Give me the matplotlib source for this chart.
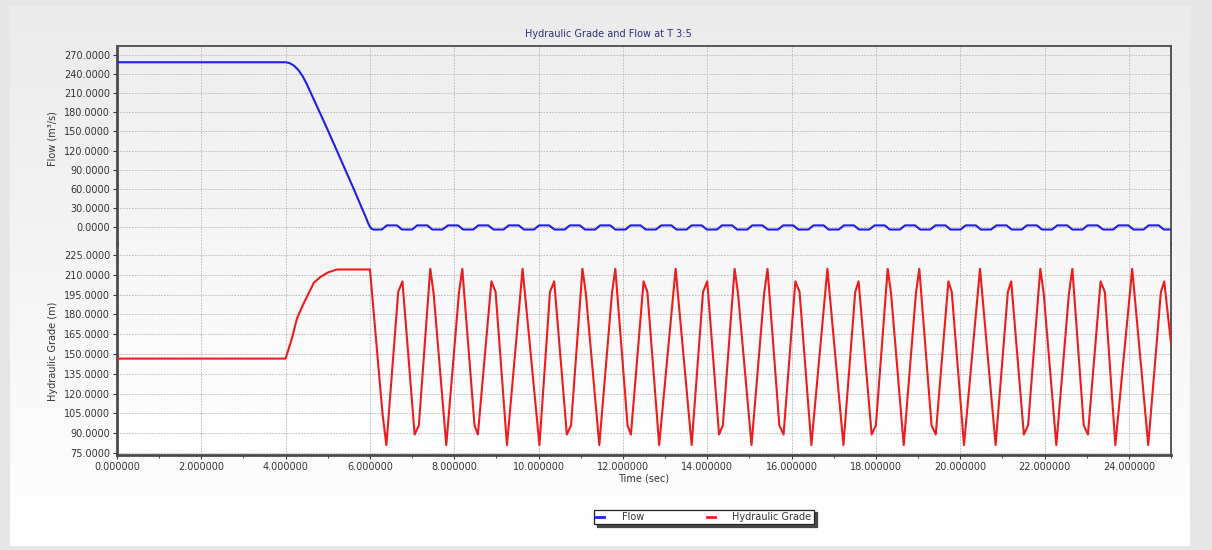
import numpy as np
import matplotlib
matplotlib.use("Agg")
import matplotlib.pyplot as plt
from matplotlib.colors import LinearSegmentedColormap
from matplotlib.ticker import MultipleLocator, FormatStrFormatter
from matplotlib.lines import Line2D

# ---------------------------------------------------------------- data
title = "Hydraulic Grade and Flow at T 3:5"
x_label = "Time (sec)"
flow_label = "Flow (m\u00b3/s)"
hgl_label = "Hydraulic Grade (m)"
series_names = ["Flow", "Hydraulic Grade"]

# Flow through T 3:5 (m3/s): steady, valve closure 4-6 s, then small surges
flow_t = [0.0, 4.0, 4.1, 4.2, 4.3, 4.4, 4.5, 4.6, 4.8, 5.0, 5.2, 5.4, 5.6,
          5.8, 5.9, 5.97, 6.03, 6.08, 6.28,
          6.40, 6.64, 6.76, 7.00, 7.12, 7.36, 7.48, 7.72,
          7.85, 8.09, 8.21, 8.45, 8.57, 8.81, 8.93, 9.17,
          9.29, 9.53, 9.65, 9.89, 10.01, 10.25, 10.38, 10.62,
          10.74, 10.98, 11.10, 11.34, 11.46, 11.70, 11.82, 12.06,
          12.18, 12.42, 12.54, 12.78, 12.91, 13.15, 13.27, 13.51,
          13.63, 13.87, 13.99, 14.23, 14.35, 14.59, 14.71, 14.95,
          15.07, 15.31, 15.44, 15.68, 15.80, 16.04, 16.16, 16.40,
          16.52, 16.76, 16.88, 17.12, 17.24, 17.48, 17.60, 17.84,
          17.97, 18.21, 18.33, 18.57, 18.69, 18.93, 19.05, 19.29,
          19.41, 19.65, 19.77, 20.01, 20.13, 20.37, 20.49, 20.73,
          20.86, 21.10, 21.22, 21.46, 21.58, 21.82, 21.94, 22.18,
          22.30, 22.54, 22.66, 22.90, 23.02, 23.26, 23.39, 23.63,
          23.75, 23.99, 24.11, 24.35, 24.47, 24.71, 24.83, 25.00]
flow_q = [258.5, 258.5, 257.0, 253.0, 246.5, 237.0, 224.5, 210.0, 181.0,
          152.0, 122.0, 92.0, 62.0, 31.0, 15.5, 4.0, -2.5, -4.0, -4.0,
          2.5, 2.5, -4.0, -4.0, 2.5, 2.5, -4.0, -4.0,
          2.5, 2.5, -4.0, -4.0, 2.5, 2.5, -4.0, -4.0,
          2.5, 2.5, -4.0, -4.0, 2.5, 2.5, -4.0, -4.0,
          2.5, 2.5, -4.0, -4.0, 2.5, 2.5, -4.0, -4.0,
          2.5, 2.5, -4.0, -4.0, 2.5, 2.5, -4.0, -4.0,
          2.5, 2.5, -4.0, -4.0, 2.5, 2.5, -4.0, -4.0,
          2.5, 2.5, -4.0, -4.0, 2.5, 2.5, -4.0, -4.0,
          2.5, 2.5, -4.0, -4.0, 2.5, 2.5, -4.0, -4.0,
          2.5, 2.5, -4.0, -4.0, 2.5, 2.5, -4.0, -4.0,
          2.5, 2.5, -4.0, -4.0, 2.5, 2.5, -4.0, -4.0,
          2.5, 2.5, -4.0, -4.0, 2.5, 2.5, -4.0, -4.0,
          2.5, 2.5, -4.0, -4.0, 2.5, 2.5, -4.0, -4.0,
          2.5, 2.5, -4.0, -4.0, 2.5, 2.5, -4.0, -4.0]

# Hydraulic grade at T 3:5 (m)
hgl_t = [0.0, 4.0, 4.15, 4.27, 4.43, 4.67, 4.83, 5.02, 5.22, 6.0,
         6.30, 6.39, 6.67, 6.77, 7.06, 7.16, 7.43, 7.51, 7.81,
         8.11, 8.19, 8.48, 8.56, 8.88, 8.98, 9.25, 9.62, 10.02,
         10.27, 10.37, 10.67, 10.77, 11.04, 11.12, 11.44,
         11.74, 11.82, 12.11, 12.19, 12.49, 12.58, 12.86, 13.25, 13.63,
         13.90, 14.00, 14.28, 14.37, 14.65, 14.73, 15.05,
         15.35, 15.43, 15.71, 15.81, 16.09, 16.19, 16.47, 16.85, 17.23,
         17.51, 17.59, 17.90, 18.00, 18.28, 18.36, 18.66,
         18.95, 19.03, 19.32, 19.42, 19.72, 19.80, 20.09, 20.47, 20.84,
         21.13, 21.21, 21.51, 21.61, 21.90, 21.98, 22.28,
         22.58, 22.66, 22.93, 23.03, 23.33, 23.43, 23.68, 24.08, 24.46,
         24.76, 24.84, 25.00]
hgl_h = [146.5, 146.5, 162.0, 177.0, 188.5, 204.0, 208.5, 212.0, 214.0, 214.0,
         104.0, 81.0, 197.0, 205.0, 89.0, 96.0, 214.5, 196.0, 81.0,
         196.0, 214.5, 96.0, 89.0, 205.0, 197.0, 81.0, 214.5, 81.0,
         197.0, 205.0, 89.0, 96.0, 214.5, 196.0, 81.0,
         196.0, 214.5, 96.0, 89.0, 205.0, 197.0, 81.0, 214.5, 81.0,
         197.0, 205.0, 89.0, 96.0, 214.5, 196.0, 81.0,
         196.0, 214.5, 96.0, 89.0, 205.0, 197.0, 81.0, 214.5, 81.0,
         197.0, 205.0, 89.0, 96.0, 214.5, 196.0, 81.0,
         196.0, 214.5, 96.0, 89.0, 205.0, 197.0, 81.0, 214.5, 81.0,
         197.0, 205.0, 89.0, 96.0, 214.5, 196.0, 81.0,
         196.0, 214.5, 96.0, 89.0, 205.0, 197.0, 81.0, 214.5, 81.0,
         197.0, 205.0, 158.0]

x_ticks = [0, 2, 4, 6, 8, 10, 12, 14, 16, 18, 20, 22, 24]
flow_ticks = [0, 30, 60, 90, 120, 150, 180, 210, 240, 270]
hgl_ticks = [75, 90, 105, 120, 135, 150, 165, 180, 195, 210, 225]

# ---------------------------------------------------------------- layout
W, H = 1212, 550
fig = plt.figure(figsize=(W / 100, H / 100), dpi=100, facecolor="#e6e6e6")


def fx(px):
    return px / W


def fy(py):
    return 1 - py / H


def gradient_axes(left, top, right, bottom, c_top, c_bottom, z):
    a = fig.add_axes([fx(left), fy(bottom), fx(right) - fx(left),
                      fy(top) - fy(bottom)], zorder=z)
    cmap = LinearSegmentedColormap.from_list("g", [c_bottom, c_top])
    a.imshow(np.linspace(0, 1, 256)[::-1].reshape(-1, 1), aspect="auto",
             cmap=cmap, extent=[0, 1, 0, 1], interpolation="bilinear")
    a.set_axis_off()
    return a


# panel behind everything, and plot-area shading
gradient_axes(10, 6, 1190, 546, "#ebebeb", "#ffffff", 0)
gradient_axes(117, 46, 1171, 455, "#eeeeee", "#ffffff", 1)

L, R, TOP, MID, BOT = 117, 1171, 46, 244, 455
ax_q = fig.add_axes([fx(L), fy(MID), fx(R) - fx(L), fy(TOP) - fy(MID)],
                    zorder=2, facecolor="none")
ax_h = fig.add_axes([fx(L), fy(BOT), fx(R) - fx(L), fy(MID) - fy(BOT)],
                    zorder=2, facecolor="none", sharex=ax_q)

tick_color = "#333333"
grid_kw = dict(color="#b4b4b4", linestyle=(0, (2, 1.5)), linewidth=0.6)
spine_color = "#4a4a4a"

flow_color = "#1f1fe6"
hgl_color = "#ee1c1c"

ax_q.plot(flow_t, flow_q, color=flow_color, lw=1.5, zorder=3)
ax_h.plot(hgl_t, hgl_h, color=hgl_color, lw=1.5, zorder=3)

ax_q.set_xlim(0, 25)
ax_q.set_ylim(-26.7, 284)
ax_h.set_ylim(73.5, 233.3)

ax_q.set_yticks(flow_ticks)
ax_h.set_yticks(hgl_ticks)
ax_h.set_xticks(x_ticks)
ax_q.yaxis.set_major_formatter(FormatStrFormatter("%.4f"))
ax_h.yaxis.set_major_formatter(FormatStrFormatter("%.4f"))
ax_h.xaxis.set_major_formatter(FormatStrFormatter("%.6f"))
ax_h.xaxis.set_minor_locator(MultipleLocator(1))

for a in (ax_q, ax_h):
    a.grid(True, which="major", **grid_kw)
    a.set_axisbelow(True)
    a.tick_params(axis="both", which="major", labelsize=7, colors=tick_color,
                  length=3, width=0.8, pad=2)
    a.tick_params(axis="both", which="minor", length=2, width=0.6,
                  colors=tick_color)
    for s in a.spines.values():
        s.set_color(spine_color)
        s.set_linewidth(1.3)
    a.spines["left"].set_linewidth(2.0)

ax_q.spines["bottom"].set_visible(False)
ax_h.spines["top"].set_visible(False)
ax_h.spines["bottom"].set_linewidth(2.0)
ax_q.tick_params(axis="x", which="both", bottom=False, labelbottom=False)

ax_q.set_ylabel(flow_label, fontsize=7, color=tick_color)
ax_h.set_ylabel(hgl_label, fontsize=7, color=tick_color)
ax_q.yaxis.set_label_coords(-0.056, 0.53)
ax_h.yaxis.set_label_coords(-0.056, 0.49)
ax_h.set_xlabel(x_label, fontsize=7, color=tick_color, labelpad=1)

fig.text(fx(608), fy(34), title, ha="center", va="center", fontsize=7,
         color="#2e2e7a")

handles = [Line2D([], [], color=flow_color, lw=2),
           Line2D([], [], color=hgl_color, lw=2)]
leg = fig.legend(handles, series_names, loc="center",
                 bbox_to_anchor=(fx(704), fy(517)), ncol=2, fontsize=7,
                 frameon=True, fancybox=False,
                 shadow={"color": "#3a3a3a", "alpha": 0.9},
                 edgecolor="#222222", facecolor="white", framealpha=1,
                 handlelength=0.8, handletextpad=1.8, columnspacing=6.5,
                 borderpad=0.25, borderaxespad=0)
leg.get_frame().set_linewidth(0.9)
for t in leg.get_texts():
    t.set_color(tick_color)

fig.savefig("out.png", dpi=100, facecolor=fig.get_facecolor())
